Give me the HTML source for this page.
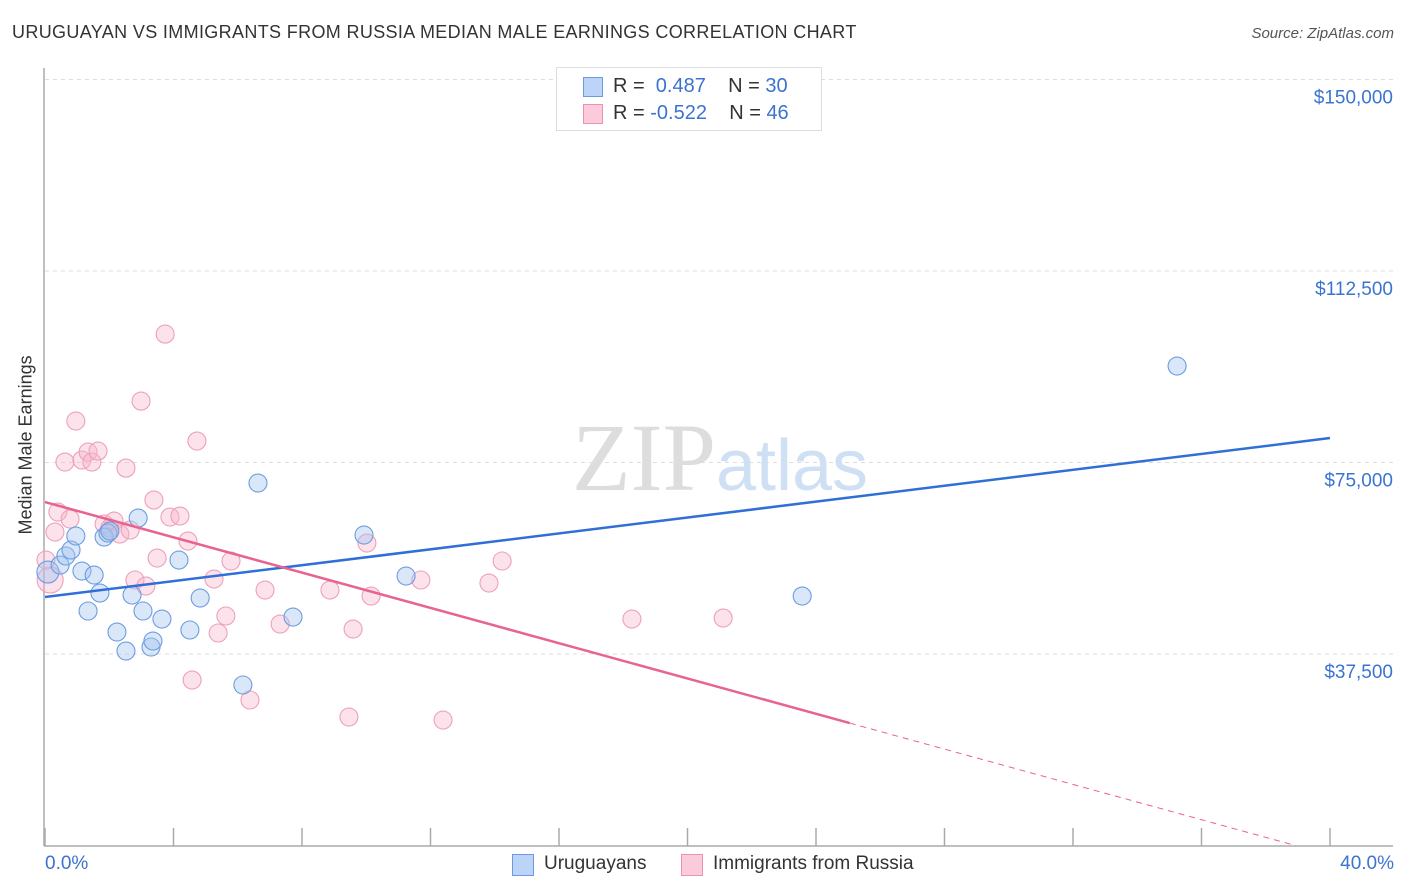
<!DOCTYPE html>
<html><head><meta charset="utf-8">
<style>
body{margin:0;background:#fff;font-family:"Liberation Sans",sans-serif;}
#wrap{position:relative;width:1406px;height:892px;overflow:hidden;}
.t{position:absolute;white-space:nowrap;}
</style></head>
<body>
<div id="wrap">
<div class="t" style="left:12px;top:22px;font-size:18px;color:#333;letter-spacing:0.35px;">URUGUAYAN VS IMMIGRANTS FROM RUSSIA MEDIAN MALE EARNINGS CORRELATION CHART</div>
<div class="t" style="right:12px;top:25px;font-size:15px;color:#555;font-style:italic;">Source: ZipAtlas.com</div>
<svg id="svg" width="1406" height="892" style="position:absolute;left:0;top:0"></svg>
</div>
<script>
const blueX=[0.09,0.47,0.65,0.81,0.96,1.15,1.34,1.53,1.71,1.84,1.96,2.02,2.24,2.52,2.71,2.90,3.05,3.30,3.36,3.64,4.17,4.51,4.83,6.16,6.63,7.72,9.93,11.24,23.57,35.24];
const blueY=[53550,54920,56690,57860,60600,53750,45920,52960,49440,60400,61190,61580,41800,38080,49050,64120,45920,38870,40040,44350,55900,42200,48460,31430,70980,44740,60800,52770,48850,93890];
const pinkX=[0.16,0.31,0.40,0.62,0.78,0.96,1.15,1.34,1.46,1.65,1.84,2.02,2.15,2.33,2.52,2.65,2.80,2.99,3.14,3.39,3.49,3.74,3.89,4.20,4.45,4.58,4.73,5.26,5.39,5.63,5.79,6.38,6.85,7.32,8.87,9.46,9.59,10.02,10.15,11.70,12.39,13.82,14.23,18.27,21.11,0.03];
const pinkY=[51990,61380,65300,75090,63930,83120,75480,77050,75090,77240,62950,62170,63540,60990,73910,61780,51990,87030,50810,67650,56290,100150,64320,64520,59620,32400,79200,52180,41610,44940,55710,28490,50030,43370,50030,25160,42390,59230,48850,51990,24570,51400,55710,44350,44540,55900];
const yTicks=[37500,75000,112500,150000];
const yTickLabels=["$37,500","$75,000","$112,500","$150,000"];
const blueLine=[48660,79790];
const pinkLine=[67260,-1860];
const pinkSolidEnd=25.05;

const X0=45,X1=1330,YB=845.5,PPV=191.5/37500;
const sx=v=>X0+(v/40)*(X1-X0);
const sy=v=>YB-v*PPV;
const svg=document.getElementById('svg');
const NS='http://www.w3.org/2000/svg';
function mk(tag,attrs,parent){const e=document.createElementNS(NS,tag);for(const k in attrs)e.setAttribute(k,attrs[k]);(parent||svg).appendChild(e);return e;}

yTicks.forEach((t,i)=>{
  const g=mk('line',{x1:45,x2:1393,y1:sy(t),y2:sy(t),stroke:'#ddd','stroke-dasharray':'4,4'});
  
  
  const tx=mk('text',{x:1393,y:sy(t)+24,'text-anchor':'end','font-size':19,fill:'#3b73d1','font-family':'Liberation Sans'});
  tx.textContent=yTickLabels[i];
  
  
});
const ax=mk('line',{x1:44,x2:44,y1:68,y2:846,stroke:'#aaa','stroke-width':1.5});


const bx=mk('line',{x1:44,x2:1393,y1:846,y2:846,stroke:'#aaa','stroke-width':1.5});


for(let i=0;i<=10;i++){
  const tk=mk('line',{x1:sx(i*4),x2:sx(i*4),y1:828,y2:846,stroke:'#aaa','stroke-width':1.5});
  
  
}
const wm=mk('text',{x:720,y:490,'text-anchor':'middle','font-size':96,'font-family':'Liberation Serif',fill:'#ddd'});
wm.innerHTML='ZIP<tspan font-family="Liberation Sans" fill="#cfe0f5" font-size="72">atlas</tspan>';



function dot(x,y,r,fill,stroke,name){
  const c=mk('circle',{cx:sx(x),cy:sy(y),r:r,fill:fill,stroke:stroke,'stroke-width':1.1});
  
  
}
pinkX.forEach((x,i)=>dot(x,pinkY[i],i===0?13:9,'rgba(248,182,204,0.4)','#eea0bb','point-russia'));
blueX.forEach((x,i)=>dot(x,blueY[i],i===0?11:9,'rgba(160,196,240,0.4)','#6d9ddf','point-uruguayan'));

const bl=mk('line',{x1:sx(0),y1:sy(blueLine[0]),x2:sx(40),y2:sy(blueLine[1]),stroke:'#2f6fd6','stroke-width':2.5});


const pAt=x=>pinkLine[0]+(pinkLine[1]-pinkLine[0])*x/40;
const pl=mk('line',{x1:sx(0),y1:sy(pAt(0)),x2:sx(pinkSolidEnd),y2:sy(pAt(pinkSolidEnd)),stroke:'#e8638f','stroke-width':2.5});


const xEnd=pinkLine[0]/(pinkLine[0]-pinkLine[1])*40;
const pd=mk('line',{x1:sx(pinkSolidEnd),y1:sy(pAt(pinkSolidEnd)),x2:sx(Math.min(xEnd,39)),y2:sy(pAt(Math.min(xEnd,39))),stroke:'#e8638f','stroke-width':1,'stroke-dasharray':'6,5'});


</script>
<div class="t" style="left:-54px;top:444px;font-size:18px;color:#333;transform:rotate(-90deg);width:160px;text-align:center;">Median Male Earnings</div>
<div class="t" style="left:45px;top:853px;font-size:19px;color:#3b73d1;">0.0%</div>
<div class="t" style="right:12px;top:853px;font-size:19px;color:#3b73d1;">40.0%</div>
<div style="position:absolute;left:556px;top:67px;width:264px;height:62px;border:1px solid #ddd;background:#fff;font-size:20px;color:#333;">
 <div style="position:absolute;left:26px;top:9px;width:18px;height:18px;background:#bcd4f7;border:1px solid #6b9ae0;"></div>
 <div class="t" style="left:56px;top:7px;">R = &nbsp;<span style="color:#3b73d1">0.487</span>&nbsp;&nbsp;&nbsp; N = <span style="color:#3b73d1">30</span></div>
 <div style="position:absolute;left:26px;top:36px;width:18px;height:18px;background:#fbcbdb;border:1px solid #e993b2;"></div>
 <div class="t" style="left:56px;top:34px;">R = <span style="color:#3b73d1">-0.522</span>&nbsp;&nbsp;&nbsp; N = <span style="color:#3b73d1">46</span></div>
</div>
<div style="position:absolute;left:512px;top:853px;font-size:19px;color:#333;">
 <div style="position:absolute;left:0;top:1px;width:20px;height:20px;background:#bcd4f7;border:1px solid #6b9ae0;"></div>
 <div class="t" style="left:32px;top:0;">Uruguayans</div></div>
<div style="position:absolute;left:681px;top:853px;font-size:19px;color:#333;">
 <div style="position:absolute;left:0;top:1px;width:20px;height:20px;background:#fbcbdb;border:1px solid #e993b2;"></div>
 <div class="t" style="left:32px;top:0;">Immigrants from Russia</div></div>
</body></html>
